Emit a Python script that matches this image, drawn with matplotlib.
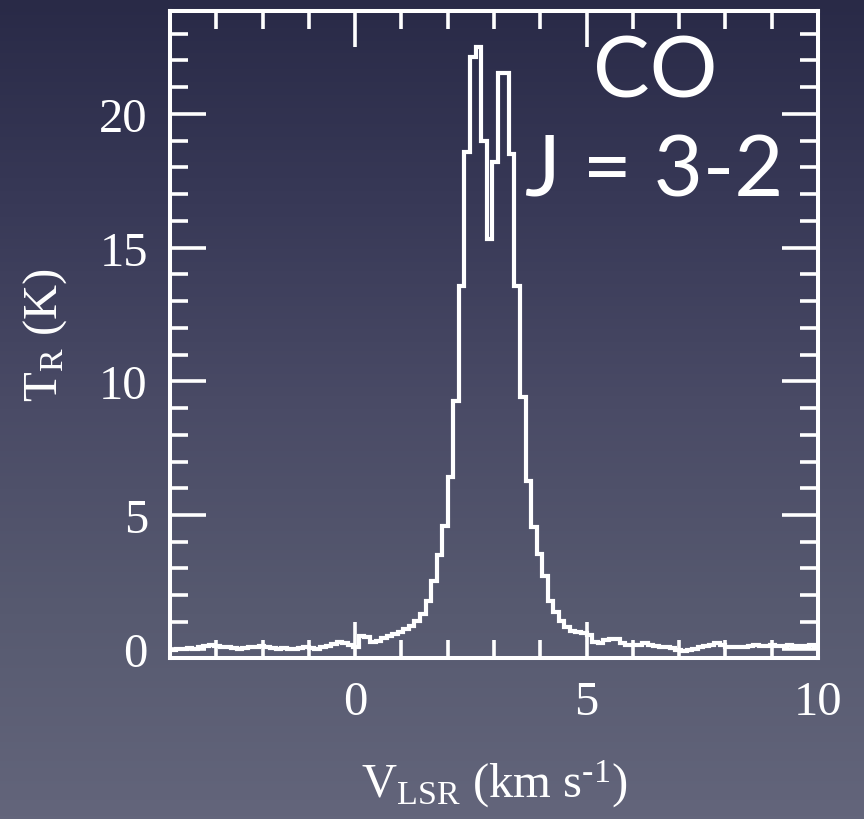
import numpy as np
import matplotlib
matplotlib.use('agg')
import matplotlib.pyplot as plt
from matplotlib.colors import LinearSegmentedColormap
from matplotlib.ticker import MultipleLocator

# CO J=3-2 spectrum, 0.12 km/s channels starting at -4 km/s
v_start = -4.0
dv = 0.12
t_r = [
    -0.05, -0.02, 0.00, 0.02, 0.00, 0.05, 0.10, 0.12, 0.10, 0.08,
    0.05, 0.02, 0.00, 0.02, 0.05, 0.08, 0.10, 0.05, 0.02, 0.00,
    0.02, 0.00, -0.02, 0.02, 0.05, 0.02, 0.00, 0.05, 0.10, 0.18,
    0.25, 0.20, 0.15, 0.08, 0.48, 0.42, 0.26, 0.30, 0.40, 0.48,
    0.55, 0.62, 0.75, 0.86, 1.05, 1.30, 1.80, 2.54, 3.50, 4.60,
    6.43, 9.27, 13.57, 18.58, 22.13, 22.50, 19.00, 15.33, 18.20, 21.53,
    21.53, 18.50, 13.57, 9.42, 6.28, 4.56, 3.55, 2.73, 1.80, 1.38,
    1.05, 0.82, 0.67, 0.62, 0.60, 0.50, 0.25, 0.22, 0.32, 0.38,
    0.35, 0.22, 0.15, 0.12, 0.15, 0.20, 0.15, 0.10, 0.08, 0.05,
    0.02, -0.05, -0.08, -0.05, 0.00, 0.05, 0.10, 0.15, 0.20, 0.12,
    0.05, 0.05, 0.05, 0.08, 0.10, 0.12, 0.10, 0.10, 0.12, 0.10,
    0.10, 0.12, 0.10, 0.10, 0.10, 0.12, 0.10,
]
edges = v_start + dv * np.arange(len(t_r) + 1)

x_lim = (-4, 10)
y_lim = (-0.35, 23.85)
x_ticks = [0, 5, 10]
y_ticks = [0, 5, 10, 15, 20]

bg_colors = ['#292a47', '#383957', '#4a4b66', '#575a70', '#63657b']

plt.rcParams['font.family'] = ['Liberation Serif', 'DejaVu Serif']
plt.rcParams['mathtext.fontset'] = 'custom'
plt.rcParams['mathtext.rm'] = 'Liberation Serif'
plt.rcParams['mathtext.it'] = 'Liberation Serif:italic'

fig = plt.figure(figsize=(8.64, 8.2), dpi=100)

# slide-style vertical gradient behind everything
bg = fig.add_axes([0, 0, 1, 1], zorder=0)
cmap = LinearSegmentedColormap.from_list('slide', bg_colors)
grad = np.linspace(0, 1, 256).reshape(-1, 1)
bg.imshow(grad, cmap=cmap, aspect='auto', extent=[0, 1, 0, 1], origin='upper')
bg.axis('off')

ax = fig.add_axes([0.1968, 0.1963, 0.75, 0.7891], zorder=1)
ax.patch.set_alpha(0)
ax.stairs(t_r, edges, baseline=None, color='white', lw=3.0)

ax.set_xlim(*x_lim)
ax.set_ylim(*y_lim)
ax.set_xticks(x_ticks)
ax.set_yticks(y_ticks)
ax.xaxis.set_minor_locator(MultipleLocator(1))
ax.yaxis.set_minor_locator(MultipleLocator(1))

for s in ax.spines.values():
    s.set_color('white')
    s.set_linewidth(2.9)

ax.tick_params(which='both', direction='in', top=True, right=True,
               colors='white', width=2.6, labelsize=35, pad=16)
ax.tick_params(which='major', length=26)
ax.tick_params(which='minor', length=13)

ax.set_xlabel(r'V$_\mathrm{LSR}$ (km s$^{\text{-1}}$)', color='white',
              fontsize=35, labelpad=24)
ax.set_ylabel(r'T$_\mathrm{R}$ (K)', color='white', fontsize=35, labelpad=22)

fig.text(0.758, 0.8817, 'CO', color='white', fontsize=61, family='Lato',
         ha='center', va='baseline')
fig.text(0.757, 0.7598, 'J = 3-2', color='white', fontsize=61, family='Lato',
         ha='center', va='baseline')

fig.savefig('out.png', dpi=100)
